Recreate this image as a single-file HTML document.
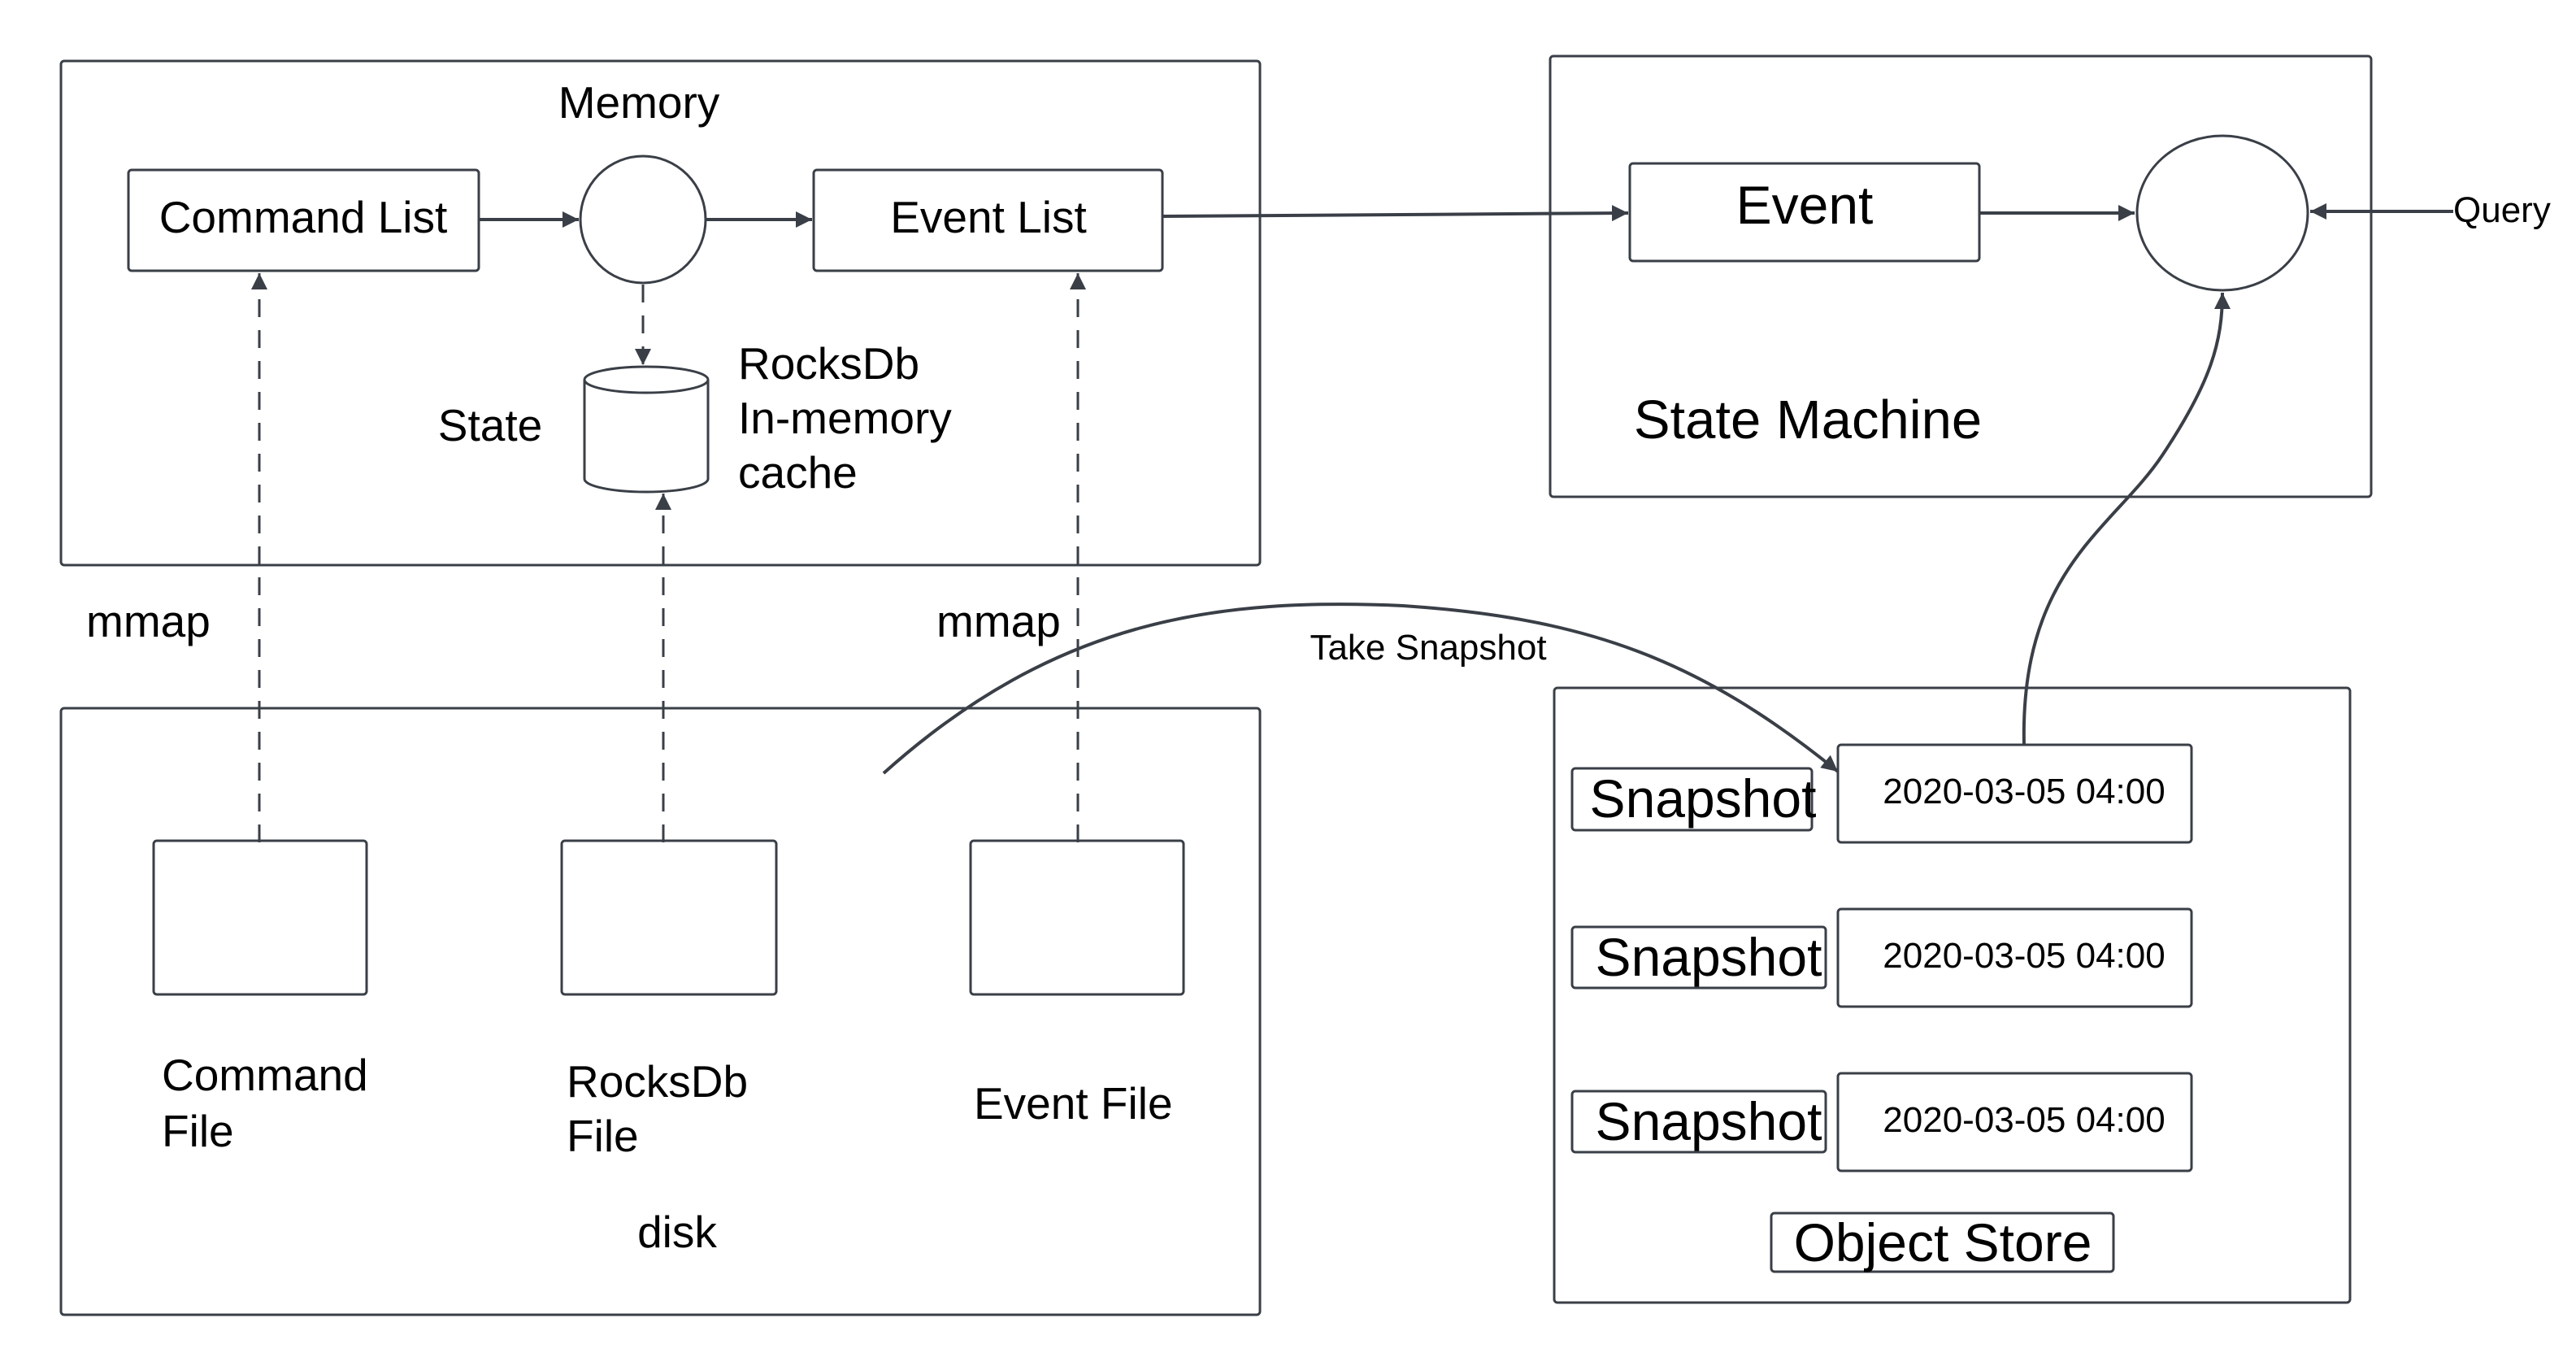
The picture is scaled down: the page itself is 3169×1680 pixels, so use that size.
<!DOCTYPE html>
<html><head><meta charset="utf-8"><style>
html,body{margin:0;padding:0;background:#fff;}
svg{display:block;}
text{font-family:"Liberation Sans",sans-serif;fill:#000;}
</style></head><body>
<svg width="3169" height="1680" viewBox="0 0 3169 1680" xmlns="http://www.w3.org/2000/svg">
<defs>
<marker id="ah" markerWidth="10" markerHeight="10" refX="9" refY="5" orient="auto" markerUnits="userSpaceOnUse" viewBox="0 0 10 10">
</marker>
<marker id="a" viewBox="0 0 10 10" refX="10" refY="5" markerWidth="20" markerHeight="20" markerUnits="userSpaceOnUse" orient="auto"><path d="M0,0 L10,5 L0,10 z" fill="#3a3f47"/></marker>
</defs>
<g fill="none" stroke="#3a3f47" stroke-width="3">
<!-- Memory -->
<rect x="75" y="75" width="1475" height="620" rx="4"/>
<rect x="158" y="209" width="431" height="124" rx="4"/>
<ellipse cx="791" cy="270" rx="77" ry="78"/>
<rect x="1001" y="209" width="429" height="124" rx="4"/>
<line x1="590" y1="270" x2="712" y2="270" stroke-width="4" marker-end="url(#a)"/>
<line x1="869" y1="270" x2="999" y2="270" stroke-width="4" marker-end="url(#a)"/>
<!-- cylinder -->
<path d="M719,467 L719,589 A76,16 0 0 0 871,589 L871,467" fill="#fff"/>
<ellipse cx="795" cy="467" rx="76" ry="16" fill="#fff"/>
<line x1="791" y1="350" x2="791" y2="449" stroke-dasharray="22,16" marker-end="url(#a)"/>
<!-- dashed mmaps -->
<line x1="319" y1="1036" x2="319" y2="336" stroke-dasharray="22,16" marker-end="url(#a)"/>
<line x1="816" y1="1036" x2="816" y2="607" stroke-dasharray="22,16" marker-end="url(#a)"/>
<line x1="1326" y1="1036" x2="1326" y2="336" stroke-dasharray="22,16" marker-end="url(#a)"/>
<!-- disk -->
<rect x="75" y="871" width="1475" height="746" rx="4"/>
<rect x="189" y="1034" width="262" height="189" rx="4"/>
<rect x="691" y="1034" width="264" height="189" rx="4"/>
<rect x="1194" y="1034" width="262" height="189" rx="4"/>
<!-- state machine -->
<rect x="1907" y="69" width="1010" height="542" rx="4"/>
<rect x="2005" y="201" width="430" height="120" rx="4"/>
<ellipse cx="2734" cy="262" rx="105" ry="95"/>
<path d="M1430,266 L2003,262" stroke-width="4" marker-end="url(#a)"/>
<line x1="2436" y1="262" x2="2626" y2="262" stroke-width="4" marker-end="url(#a)"/>
<line x1="3018" y1="260" x2="2842" y2="260" stroke-width="4" marker-end="url(#a)"/>
<!-- object store -->
<rect x="1912" y="846" width="979" height="756" rx="4"/>
<rect x="2261" y="916" width="435" height="120" rx="4"/>
<rect x="2261" y="1118" width="435" height="120" rx="4"/>
<rect x="2261" y="1320" width="435" height="120" rx="4"/>
<rect x="1934" y="945" width="295" height="76" rx="4"/>
<rect x="1934" y="1140" width="312" height="75" rx="4"/>
<rect x="1934" y="1342" width="312" height="75" rx="4"/>
<rect x="2179" y="1492" width="421" height="72" rx="4"/>
<!-- curves -->
<path d="M1087,951 C1300,760 1500,735 1726,745 C1950,760 2090,810 2261,949" stroke-width="4" marker-end="url(#a)"/>
<path d="M2490,916 C2485,700 2600,650 2660,560 C2720,470 2734,420 2734,360" stroke-width="4" marker-end="url(#a)"/>
</g>
<g font-size="55">
<text x="786" y="145" text-anchor="middle">Memory</text>
<text x="373" y="286" text-anchor="middle">Command List</text>
<text x="1216" y="286" text-anchor="middle">Event List</text>
<text x="603" y="542" text-anchor="middle">State</text>
<text x="908" y="466">RocksDb</text>
<text x="908" y="533">In-memory</text>
<text x="908" y="600">cache</text>
<text x="106" y="783">mmap</text>
<text x="1152" y="783">mmap</text>
<text x="199" y="1341">Command</text>
<text x="199" y="1410">File</text>
<text x="697" y="1349">RocksDb</text>
<text x="697" y="1416">File</text>
<text x="1198" y="1376">Event File</text>
<text x="833" y="1534" text-anchor="middle">disk</text>
</g>
<text x="2220" y="275" font-size="66" text-anchor="middle">Event</text>
<text x="2224" y="539" font-size="67" text-anchor="middle">State Machine</text>
<text x="3018" y="273" font-size="44">Query</text>
<text x="1757" y="811" font-size="44" text-anchor="middle">Take Snapshot</text>
<g font-size="44" text-anchor="middle">
<text x="2490" y="988">2020-03-05 04:00</text>
<text x="2490" y="1190">2020-03-05 04:00</text>
<text x="2490" y="1392">2020-03-05 04:00</text>
</g>
<g font-size="66" text-anchor="middle">
<text x="2095" y="1005">Snapshot</text>
<text x="2102" y="1200">Snapshot</text>
<text x="2102" y="1402">Snapshot</text>
<text x="2390" y="1551">Object Store</text>
</g>
</svg>
</body></html>
